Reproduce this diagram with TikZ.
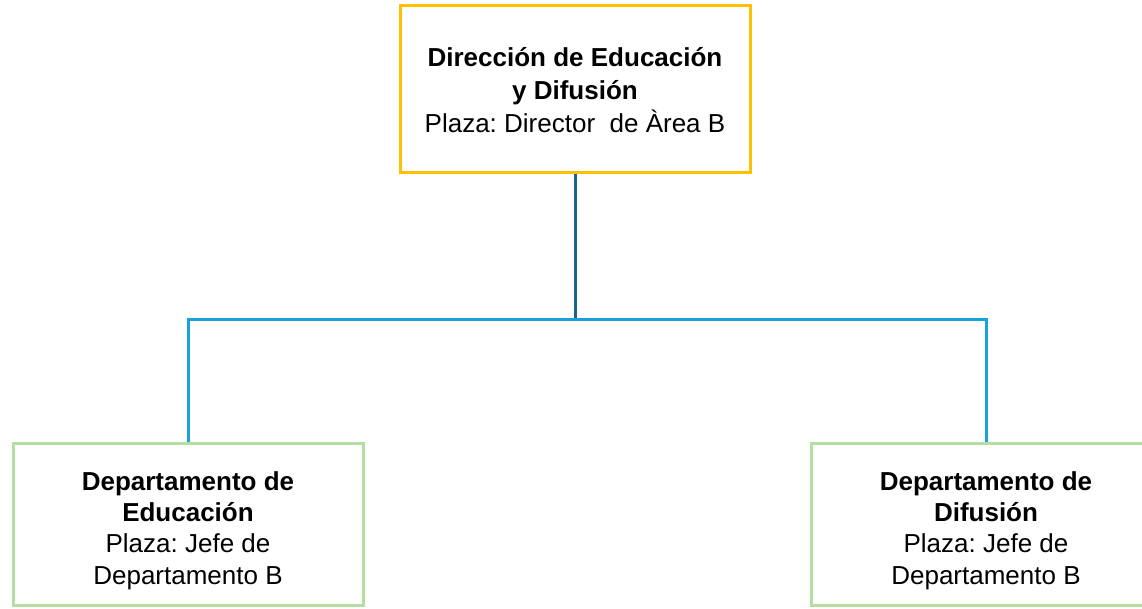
\documentclass[tikz,border=0pt]{standalone}
\usepackage{fontspec}
\setmainfont{Liberation Sans}
\frenchspacing
\definecolor{gold}{HTML}{FFC000}
\definecolor{darkteal}{HTML}{1B6488}
\definecolor{linkblue}{HTML}{1AA0DA}
\definecolor{softgreen}{HTML}{B3E0A2}
\begin{document}
\begin{tikzpicture}[x=1pt,y=-1pt,
  box/.style={draw, line width=3pt, fill=white, inner sep=0pt, align=center,
    font=\fontsize{26}{33}\selectfont},
  topbox/.style={box, draw=gold, minimum width=350pt, minimum height=167pt},
  deptbox/.style={box, draw=softgreen, minimum width=350pt, minimum height=162pt,
    font=\fontsize{26}{31.3}\selectfont},
  trunk/.style={draw=darkteal, line width=3pt},
  branch/.style={draw=linkblue, line width=3pt}]
\useasboundingbox (0,0) rectangle (1142,608);
\clip (0,0) rectangle (1142,608);
\fill[white] (0,0) rectangle (1142,608);
\node[topbox] (dir) at (575,88.5) {\rule{0pt}{22pt}\textbf{Dirección de Educación}\\\textbf{y Difusión}\\Plaza: Director~ de Àrea B};
\node[deptbox] (edu) at (188,524) {\rule{0pt}{32pt}\textbf{Departamento de}\\\textbf{Educación}\\Plaza: Jefe de\\Departamento B};
\node[deptbox] (dif) at (986,524) {\rule{0pt}{32pt}\textbf{Departamento de}\\\textbf{Difusión}\\Plaza: Jefe de\\Departamento B};
\coordinate (j) at (575,319);
\draw[trunk] (dir.south) -- (j);
\draw[branch] (edu.north) |- (j) -| (dif.north);
\end{tikzpicture}
\end{document}
